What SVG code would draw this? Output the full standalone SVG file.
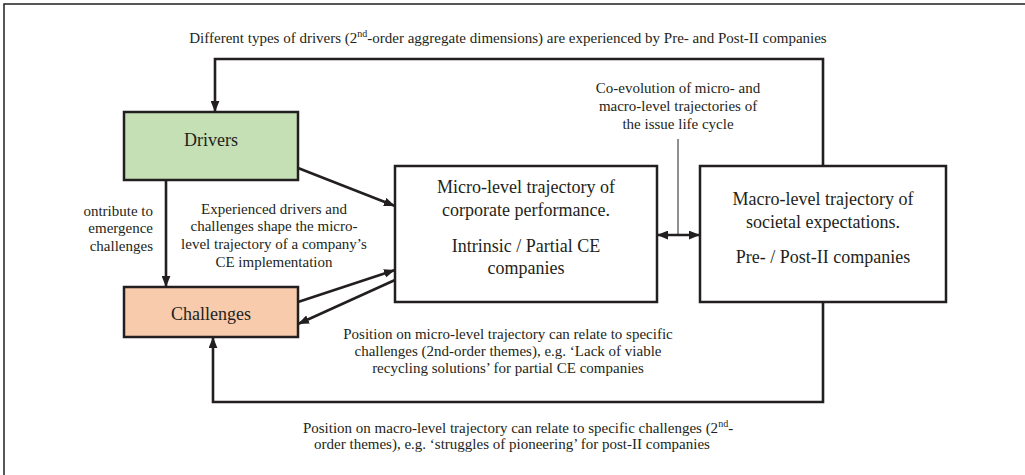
<svg xmlns="http://www.w3.org/2000/svg" width="1025" height="475" viewBox="0 0 1025 475">
<style>
  .box { stroke: #231f20; stroke-width: 2.5; }
  text { font-family: 'Liberation Serif', 'Times New Roman', serif; fill: #231f20; }
  .s { font-size: 15px; }
  .b { font-size: 18px; }
  .c { stroke: #231f20; stroke-width: 2.6; fill: none; }
  .thin { stroke: #231f20; stroke-width: 1; fill: none; }
  .sup { font-size: 10px; }
</style>
<defs>
  <marker id="arr" viewBox="0 0 10 8" refX="10" refY="4" markerWidth="11" markerHeight="9" markerUnits="userSpaceOnUse" orient="auto-start-reverse">
    <path d="M0,0 L10,4 L0,8 z" fill="#231f20"/>
  </marker>
</defs>
<rect width="1025" height="475" fill="#ffffff"/>
<g id="frame">
  <path d="M4,475 V4 H1025" fill="none" stroke="#231f20" stroke-width="1.5"/>
</g>

<g id="connectors">
  <path class="c" d="M823,166 V59 H215 V112" marker-end="url(#arr)"/>
  <path class="c" d="M298,168 L395,206" marker-end="url(#arr)"/>
  <path class="c" d="M166,180 V287" marker-end="url(#arr)"/>
  <path class="c" d="M298,302 L395,270" marker-end="url(#arr)"/>
  <path class="c" d="M395,280 L298,324" marker-end="url(#arr)"/>
  <path class="c" d="M657,235 H700" marker-start="url(#arr)" marker-end="url(#arr)"/>
  <path class="thin" d="M678,139 V235"/>
  <path class="c" d="M823,302 V402 H213 V337" marker-end="url(#arr)"/>
</g>

<g id="drivers">
  <rect class="box" x="124" y="112" width="174" height="68" fill="#c5e0b4"/>
  <text class="b" x="211" y="146" text-anchor="middle">Drivers</text>
</g>
<g id="challenges">
  <rect class="box" x="124" y="287" width="174" height="50" fill="#f8cbad"/>
  <text class="b" x="211" y="320" text-anchor="middle">Challenges</text>
</g>
<g id="micro">
  <rect class="box" x="395" y="166" width="262" height="136" fill="#ffffff"/>
  <text class="b" x="526" y="193" text-anchor="middle">Micro-level trajectory of</text>
  <text class="b" x="526" y="216" text-anchor="middle">corporate performance.</text>
  <text class="b" x="526" y="252" text-anchor="middle">Intrinsic / Partial CE</text>
  <text class="b" x="526" y="274" text-anchor="middle">companies</text>
</g>
<g id="macro">
  <rect class="box" x="700" y="166" width="246" height="136" fill="#ffffff"/>
  <text class="b" x="823" y="205" text-anchor="middle">Macro-level trajectory of</text>
  <text class="b" x="823" y="228" text-anchor="middle">societal expectations.</text>
  <text class="b" x="823" y="263" text-anchor="middle">Pre- / Post-II companies</text>
</g>

<g id="labels">
  <text class="s" x="508" y="43" text-anchor="middle">Different types of drivers (2<tspan class="sup" dy="-6">nd</tspan><tspan dy="6">-order aggregate dimensions) are experienced by Pre- and Post-II companies</tspan></text>
  <text class="s" text-anchor="middle"><tspan x="678" y="93">Co-evolution of micro- and</tspan><tspan x="678" y="111">macro-level trajectories of</tspan><tspan x="678" y="129">the issue life cycle</tspan></text>
  <text class="s" text-anchor="end"><tspan x="153" y="216">ontribute to</tspan><tspan x="153" y="233">emergence</tspan><tspan x="153" y="251">challenges</tspan></text>
  <text class="s" text-anchor="middle"><tspan x="274" y="214">Experienced drivers and</tspan><tspan x="274" y="231">challenges shape the micro-</tspan><tspan x="274" y="249">level trajectory of a company’s</tspan><tspan x="274" y="267">CE implementation</tspan></text>
  <text class="s" text-anchor="middle"><tspan x="508" y="339">Position on micro-level trajectory can relate to specific</tspan><tspan x="508" y="356">challenges (2nd-order themes), e.g. ‘Lack of viable</tspan><tspan x="508" y="373">recycling solutions’ for partial CE companies</tspan></text>
  <text class="s" x="518" y="433" text-anchor="middle">Position on macro-level trajectory can relate to specific challenges (2<tspan class="sup" dy="-6">nd</tspan><tspan dy="6">-</tspan></text>
  <text class="s" x="512" y="449" text-anchor="middle">order themes), e.g. ‘struggles of pioneering’ for post-II companies</text>
</g>
</svg>
